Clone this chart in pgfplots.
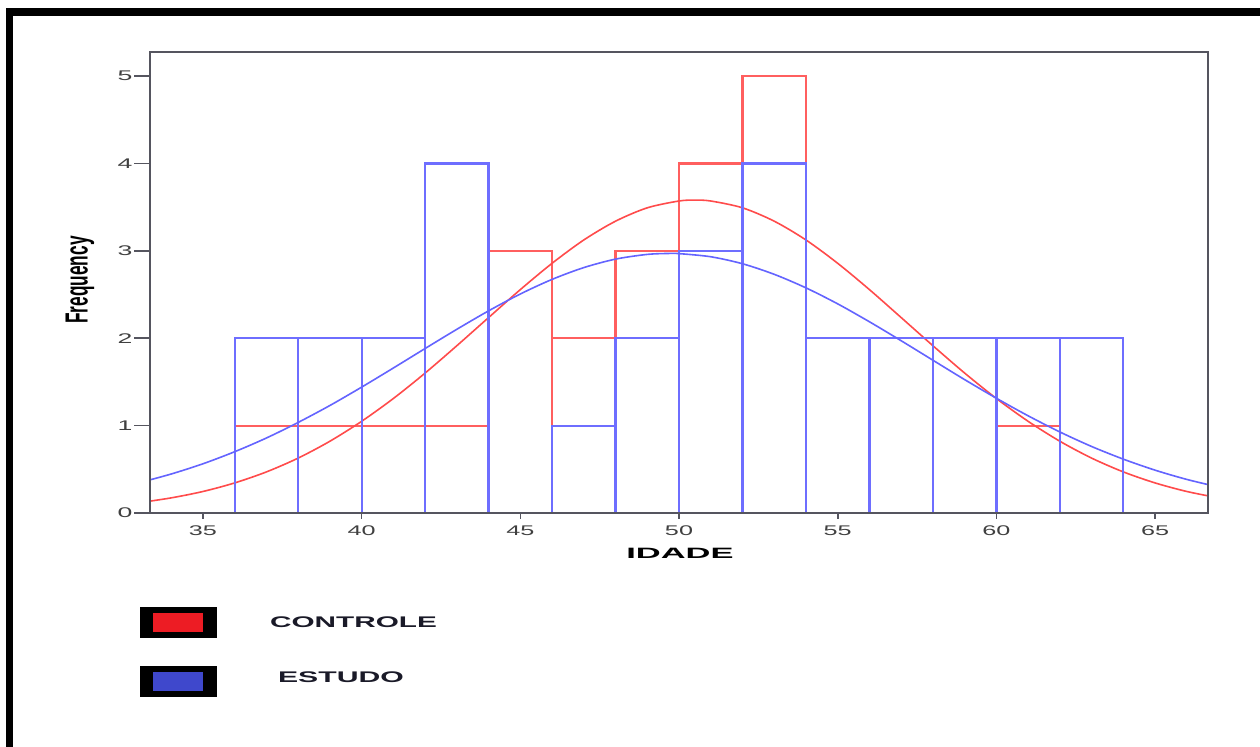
\documentclass[border=0pt]{standalone}
\usepackage{pgfplots}
\pgfplotsset{compat=1.18}
\usepackage{graphicx}
\usepackage{fontspec}
\setmainfont{Liberation Sans}
\definecolor{hred}{RGB}{255,95,95}
\definecolor{hblue}{RGB}{110,110,255}
\definecolor{cred}{RGB}{255,75,75}
\definecolor{cblue}{RGB}{100,100,255}
\definecolor{legred}{RGB}{237,28,36}
\definecolor{legblue}{RGB}{63,72,204}
\definecolor{axgray}{RGB}{85,85,95}
\definecolor{txt}{RGB}{26,26,40}
\begin{document}
\begin{tikzpicture}
\useasboundingbox (0,0) rectangle (630bp,373.5bp);
\fill[white] (0,0) rectangle (630bp,373.5bp);
\fill[black] (3bp,0) rectangle (6.5bp,369.5bp);
\fill[black] (3bp,365.5bp) rectangle (630bp,369.5bp);
\begin{axis}[
  at={(75bp,117bp)}, anchor=south west,
  scale only axis, width=529bp, height=230.5bp,
  xmin=33.333, xmax=66.667, ymin=0, ymax=5.275,
  xtick={35,40,45,50,55,60,65}, ytick={0,1,2,3,4,5},
  xtick pos=bottom, ytick pos=left,
  minor tick num=0,
  tick align=outside, major tick length=3bp,
  xtick style={axgray, line width=0.8bp},
  ytick style={draw=none},
  axis line style={axgray, line width=1bp},
  axis on top,
  clip mode=individual,
  /pgf/number format/assume math mode=true,
  xticklabel style={font=\fontsize{7bp}{8bp}\selectfont, text=black!75, xscale=1.8},
  yticklabel style={font=\fontsize{7bp}{8bp}\selectfont, text=black!75, xscale=1.9, xshift=0.5bp},
]
\addplot[ybar interval, draw=hred, fill=none, line width=1.1bp] coordinates {
 (36,1) (38,1) (40,1) (42,1) (44,3) (46,2) (48,3) (50,4) (52,5) (54,2) (56,2) (58,2) (60,1) (62,2) (64,0)};
\addplot[cred, line width=0.8bp, smooth, mark=none] coordinates {
 (33,0.118) (34,0.173) (35,0.246) (36,0.344) (37,0.470) (38,0.628) (39,0.821) (40,1.049)
 (41,1.310) (42,1.601) (43,1.914) (44,2.236) (45,2.556) (46,2.857) (47,3.124) (48,3.339)
 (49,3.492) (50,3.570) (50.5,3.580) (51,3.570) (52,3.492) (53,3.339) (54,3.124) (55,2.857)
 (56,2.556) (57,2.236) (58,1.914) (59,1.601) (60,1.310) (61,1.049) (62,0.821) (63,0.628)
 (64,0.470) (65,0.344) (66,0.246) (67,0.173)};
\addplot[ybar interval, draw=hblue, fill=none, line width=1.1bp] coordinates {
 (36,2) (38,2) (40,2) (42,4) (44,0) (46,1) (48,2) (50,3) (52,4) (54,2) (56,2) (58,2) (60,2) (62,2) (64,0)};
\addplot[cblue, line width=0.8bp, smooth, mark=none] coordinates {
 (33,0.347) (34,0.446) (35,0.563) (36,0.701) (37,0.858) (38,1.036) (39,1.230) (40,1.440)
 (41,1.659) (42,1.882) (43,2.102) (44,2.313) (45,2.506) (46,2.673) (47,2.808) (48,2.905)
 (49,2.959) (49.7,2.970) (50,2.968) (51,2.932) (52,2.852) (53,2.731) (54,2.576) (55,2.393)
 (56,2.188) (57,1.971) (58,1.748) (59,1.526) (60,1.313) (61,1.112) (62,0.927) (63,0.761)
 (64,0.616) (65,0.490) (66,0.384) (67,0.297)};
\pgfplotsinvokeforeach{0,1,2,3,4,5}{
  \draw[axgray, line width=0.8bp] (axis cs:33.333,#1) -- (axis cs:32.83,#1);
}
\end{axis}
\node[rotate=90] at (40bp,233.5bp) {\scalebox{0.54}[1]{\fontsize{16bp}{18bp}\selectfont\bfseries Frequency}};
\node at (340bp,96.8bp) {\scalebox{2.3}[1]{\fontsize{7.5bp}{9bp}\selectfont\bfseries IDADE}};
% legend
\fill[black] (70bp,54.5bp) rectangle (108.5bp,70bp);
\fill[legred] (76.5bp,57.5bp) rectangle (101.5bp,67bp);
\fill[black] (70bp,25bp) rectangle (108.5bp,40.5bp);
\fill[legblue] (76.5bp,28bp) rectangle (101.5bp,37.5bp);
\node[text=txt] at (176.75bp,62.5bp) {\scalebox{1.93}[1]{\fontsize{7.7bp}{9bp}\selectfont\bfseries CONTROLE}};
\node[text=txt] at (170.5bp,35bp) {\scalebox{1.96}[1]{\fontsize{7.7bp}{9bp}\selectfont\bfseries ESTUDO}};
\end{tikzpicture}
\end{document}
